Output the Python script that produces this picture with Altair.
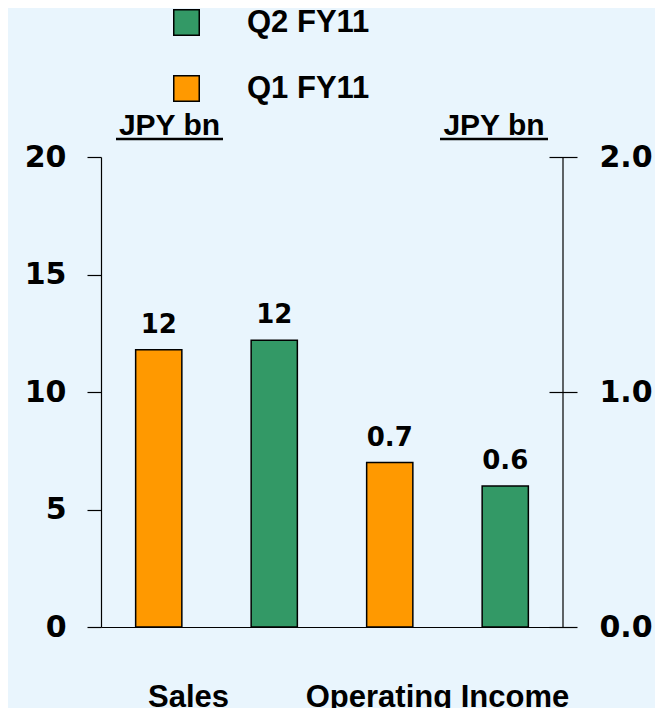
import altair as alt
import pandas as pd

categories = ["Sales", "Operating Income"]
series = ["Q1 FY11", "Q2 FY11"]
legend_order = ["Q2 FY11", "Q1 FY11"]
sales_values = [11.8, 12.2]
oi_values = [0.70, 0.60]
sales_labels = ["12", "12"]
oi_labels = ["0.7", "0.6"]
left_ticks = [0, 5, 10, 15, 20]
right_ticks = [0.0, 1.0, 2.0]
unit_label = "JPY bn"
colors = ["#FF9900", "#339966"]
BG = "#E9F5FD"

sales_df = pd.DataFrame({"category": categories[0], "series": series,
                         "value": sales_values, "label": sales_labels})
oi_df = pd.DataFrame({"category": categories[1], "series": series,
                      "value": oi_values, "label": oi_labels})
unit_df = pd.DataFrame({"t": [unit_label]})

W, H = 462, 470
ARIAL = "Liberation Sans"
WIDE = "DejaVu Sans"

x_enc = alt.X(
    "category:N", sort=categories,
    scale=alt.Scale(domain=categories, paddingInner=0, paddingOuter=0),
    axis=alt.Axis(title=None, domain=True, domainColor="black", domainWidth=1.2,
                  ticks=False, labelFont=ARIAL, labelFontSize=31, labelFontWeight="bold",
                  labelColor="black", labelPadding=55, labelAngle=0, labelLimit=0,
                  labelOffset={"condition": {"test": "datum.value == 'Sales'", "value": -28},
                               "value": -10}),
)
xoff = alt.XOffset("series:N", sort=series,
                   scale=alt.Scale(domain=series, paddingInner=0.6, paddingOuter=0.3))
legend = alt.Legend(orient="none", legendX=70, legendY=-150, title=None,
                    values=legend_order, symbolType="square", symbolSize=650,
                    symbolStrokeColor="black", symbolStrokeWidth=1.5, symbolOpacity=1,
                    labelFont=ARIAL, labelFontSize=31, labelFontWeight="bold",
                    labelColor="black", labelOffset=45, rowPadding=33, padding=0,
                    direction="vertical")
color = alt.Color("series:N", scale=alt.Scale(domain=series, range=colors), legend=legend)

y_left = alt.Y("value:Q", scale=alt.Scale(domain=[0, 20], nice=False),
               axis=alt.Axis(orient="left", values=left_ticks, title=None, grid=False,
                             domain=True, domainColor="black", domainWidth=1.2,
                             tickSize=14, tickColor="black", tickWidth=1.2,
                             labelPadding=21, labelFont=WIDE, labelFontSize=30,
                             labelFontWeight="bold", labelColor="black"))
y_right = alt.Y("value:Q", scale=alt.Scale(domain=[0, 2], nice=False),
                axis=alt.Axis(orient="right", values=right_ticks, format=".1f", title=None,
                              grid=False, domain=False, tickSize=28, offset=-14,
                              tickColor="black", tickWidth=1.2, labelPadding=22,
                              labelFont=WIDE, labelFontSize=30, labelFontWeight="bold",
                              labelColor="black"))

bar_kw = dict(stroke="black", strokeWidth=1.5)
text_kw = dict(dy=-12, baseline="bottom", align="center", font=WIDE, fontSize=26,
               fontWeight="bold", color="black")

sales = alt.layer(
    alt.Chart(sales_df).mark_bar(**bar_kw).encode(x=x_enc, xOffset=xoff, y=y_left, color=color),
    alt.Chart(sales_df).mark_text(**text_kw).encode(x=x_enc, xOffset=xoff, y=y_left, text="label:N"),
)
oi = alt.layer(
    alt.Chart(oi_df).mark_bar(**bar_kw).encode(x=x_enc, xOffset=xoff, y=y_right, color=color),
    alt.Chart(oi_df).mark_text(**text_kw).encode(x=x_enc, xOffset=xoff, y=y_right, text="label:N"),
)

right_domain = alt.Chart(unit_df).mark_rule(color="black", strokeWidth=1.2).encode(
    x=alt.value(W), y=alt.value(0), y2=alt.value(H))

unit_kw = dict(align="center", baseline="alphabetic", font=ARIAL, fontSize=30,
               fontWeight="bold", color="black")
unit_left = alt.Chart(unit_df).mark_text(**unit_kw).encode(
    x=alt.value(68.5), y=alt.value(-22), text="t:N")
unit_right = alt.Chart(unit_df).mark_text(**unit_kw).encode(
    x=alt.value(393), y=alt.value(-22), text="t:N")
ul_left = alt.Chart(unit_df).mark_rule(color="black", strokeWidth=2.5).encode(
    x=alt.value(15), x2=alt.value(122), y=alt.value(-18))
ul_right = alt.Chart(unit_df).mark_rule(color="black", strokeWidth=2.5).encode(
    x=alt.value(339), x2=alt.value(447), y=alt.value(-18))

chart = alt.layer(sales, oi, right_domain, unit_left, unit_right, ul_left, ul_right).resolve_scale(
    y="independent"
).properties(
    width=W, height=H,
    autosize=alt.AutoSizeParams(type="none"),
    padding={"left": 93, "top": 149, "right": 92, "bottom": 81},
    background=BG,
    usermeta={"embedOptions": {"defaultStyle": "html, body { background: " + BG + "; }"}},
).configure_view(stroke=None).configure_axis(grid=False)

chart.save("out.html", embed_options={"renderer": "svg", "actions": False})
